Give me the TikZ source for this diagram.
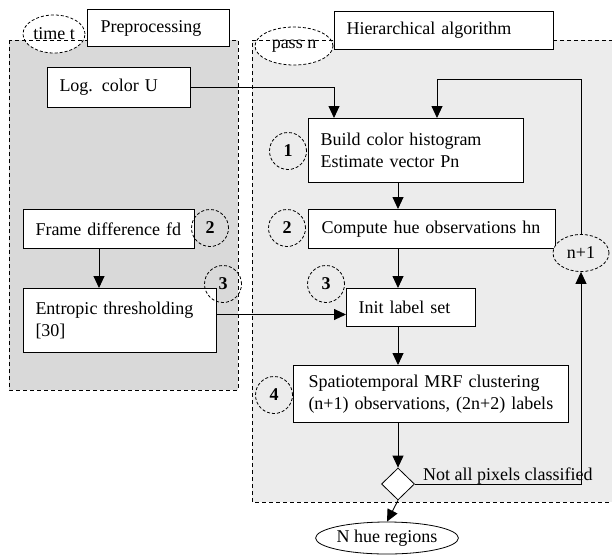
\documentclass[tikz,border=0pt]{standalone}
\usepackage{fontspec}
\setmainfont{Liberation Serif}
\usetikzlibrary{arrows.meta, shapes.geometric, positioning}

\newcommand{\flowfont}{\fontsize{18}{22}\selectfont}

\tikzset{
	stepbox/.style = {draw, fill=white, line width=1pt, align=left, anchor=north west, inner xsep=12pt, inner ysep=0pt},
	stepnum/.style = {circle, draw, dash pattern=on 3pt off 2pt, line width=0.8pt, minimum size=37pt, inner sep=0pt, font=\flowfont\bfseries},
	tag/.style = {ellipse, draw, fill=white, dash pattern=on 3pt off 2pt, line width=0.8pt, inner sep=0pt},
	arr/.style = {-{Triangle[width=11pt,length=12pt]}, line width=0.9pt},
}

\begin{document}
\begin{tikzpicture}[x=1pt, y=-1pt, font=\flowfont]
	\useasboundingbox (0,0) rectangle (612,554);

	\fill [gray!30] (9,40) rectangle (238,390);
	\fill [gray!15] (252,40) rectangle (620,502);

	\node [tag, minimum width=62pt, minimum height=38pt] (time) at (54,34) {time t};
	\node [tag, minimum width=78pt, minimum height=38pt] (pass) at (294,46) {pass n};

	\begin{scope}[dash pattern=on 4pt off 3pt, line width=0.8pt]
		\draw (9,40) rectangle (238,390);
		\draw (620,40) -- (252,40) -- (252,502) -- (620,502);
	\end{scope}

	\node [stepbox, text width=116pt, inner xsep=13pt, minimum height=37pt] (pre) at (87,9) {Preprocessing};
	\node [stepbox, text width=195pt, minimum height=38pt] (hier) at (334,11) {Hierarchical algorithm};
	\node [stepbox, text width=119pt, minimum height=40pt] (logc) at (47,67) {Log. color U};
	\node [stepbox, text width=147pt, minimum height=39pt] (frame) at (23,209) {Frame difference fd};
	\node [stepbox, text width=169pt, minimum height=64pt] (entropic) at (23,288) {Entropic thresholding\\{[30]}};
	\node [stepbox, text width=191pt, minimum height=64pt] (build) at (308,118) {Build color histogram\\Estimate vector Pn};
	\node [stepbox, text width=221pt, inner xsep=13pt, minimum height=39pt] (compute) at (308,209) {Compute hue observations hn};
	\node [stepbox, text width=105pt, minimum height=38pt] (init) at (346,288) {Init label set};
	\node [stepbox, text width=245pt, inner xsep=15pt, minimum height=57pt] (spatio) at (293,365) {Spatiotemporal MRF clustering\\(n+1) observations, (2n+2) labels};

	\node [tag, fill=gray!15, minimum width=56pt, minimum height=37pt] (loop) at (581,253) {n+1};
	\node [ellipse, draw, line width=0.8pt, inner sep=0pt, minimum width=131pt, minimum height=32pt] (hue) at (387,538) {N hue regions};

	\node [stepnum] (num1) at (288,151) {1};
	\node [stepnum] (num2a) at (210,228) {2};
	\node [stepnum] (num2b) at (287,228) {2};
	\node [stepnum] (num3a) at (223,284) {3};
	\node [stepnum] (num3b) at (326,284) {3};
	\node [stepnum] (num4) at (274,395) {4};

	\node [diamond, draw, fill=white, line width=0.8pt, inner sep=0pt, minimum width=33pt, minimum height=32pt] (dia) at (398,484) {};
	\node [anchor=base west, inner sep=0pt] (cond) at (423,480) {Not all pixels classified};

	\draw [arr] (logc.east) -| ([xshift=26pt]build.north west);
	\coordinate (back) at (437,79);
	\draw [arr] (loop.north) |- (back) -- (back |- build.north);
	\draw [arr] (build.south -| dia) -- (compute.north -| dia);
	\draw [arr] (compute.south -| dia) -- (init.north -| dia);
	\draw [arr] (init.south -| dia) -- (spatio.north -| dia);
	\draw [arr] (spatio.south -| dia) -- (dia.north);
	\draw [arr] (dia.south) -- (hue.north);
	\draw [arr] (dia.east) -| (loop.south);
	\draw [arr] ([xshift=76pt]frame.south west) -- ([xshift=76pt]frame.south west |- entropic.north);
	\draw [arr] ([yshift=6pt]entropic.east) -- ([yshift=6pt]entropic.east -| init.west);
\end{tikzpicture}
\end{document}
